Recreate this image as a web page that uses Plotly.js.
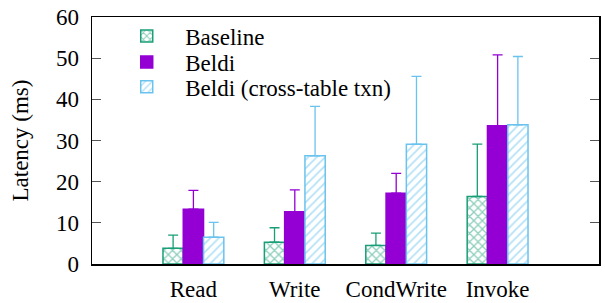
<!DOCTYPE html>
<html>
<head>
<meta charset="utf-8">
<script src="https://cdn.plot.ly/plotly-3.0.1.min.js"></script>
<style>html,body{margin:0;padding:0;background:#fff;}#chart{width:605px;height:303px;}</style>
</head>
<body>
<div id="chart"></div>
<script>
const categories = ["Read", "Write", "CondWrite", "Invoke"];
const seriesNames = ["Baseline", "Beldi", "Beldi (cross-table txn)"];
const baselineMean = [3.8, 5.3, 4.5, 16.4];
const baselineErrTop = [7.0, 8.8, 7.5, 29.1];
const beldiMean = [13.3, 12.7, 17.2, 33.6];
const beldiErrTop = [17.9, 18.0, 22.0, 50.8];
const crossMean = [6.5, 26.3, 29.1, 33.8];
const crossErrTop = [10.1, 38.3, 45.6, 50.4];
const yTicks = [0, 10, 20, 30, 40, 50, 60];

const green = "#1a9e77", purple = "#9400d3", blue = "#6ac3ee";
const font = {family: "Liberation Serif", size: 23, color: "#000"};

function mk(name, mean, top, color, pattern, legendId) {
  const marker = {color: pattern ? "#fff" : color, line: {color: color, width: 1.5}};
  if (pattern) marker.pattern = {shape: pattern.shape, fgcolor: color, bgcolor: "#fff", size: pattern.size, solidity: pattern.solidity, fillmode: "overlay"};
  return {
    type: "bar", name: name, x: categories, y: mean, marker: marker, legend: legendId,
    error_y: {type: "data", symmetric: false, array: top.map((t, i) => t - mean[i]), arrayminus: mean.map(() => 0),
              color: color, thickness: 1.3, width: 5}
  };
}

const data = [
  mk(seriesNames[0], baselineMean, baselineErrTop, green, {shape: "x", size: 6, solidity: 0.38}, "legend"),
  mk(seriesNames[1], beldiMean, beldiErrTop, purple, null, "legend2"),
  mk(seriesNames[2], crossMean, crossErrTop, blue, {shape: "/", size: 6, solidity: 0.3}, "legend3")
];

function leg(y) {
  return {x: 0.032, y: y, xanchor: "left", yanchor: "middle", bgcolor: "rgba(0,0,0,0)", font: font, itemwidth: 67};
}

const layout = {
  width: 605, height: 303,
  margin: {l: 92, r: 6, t: 17, b: 39},
  paper_bgcolor: "#fff", plot_bgcolor: "#fff",
  font: font,
  barmode: "group", bargap: 0.4, bargroupgap: 0,
  showlegend: true,
  legend: leg(0.923), legend2: leg(0.818), legend3: leg(0.717),
  xaxis: {type: "category", range: [-1, 4], showline: true, mirror: true, linecolor: "#000", linewidth: 1.5,
          ticks: "", showgrid: false, zeroline: false, tickfont: font, ticklabelstandoff: 4},
  yaxis: {range: [0, 60], tickvals: yTicks, ticks: "inside", ticklen: 9, tickcolor: "#555", tickwidth: 1.2,
          showline: true, mirror: "ticks", linecolor: "#000", linewidth: 1.5, showgrid: false, zeroline: false,
          tickfont: font, ticklabelstandoff: 7, title: {text: "Latency (ms)", font: font, standoff: 21}}
};

Plotly.newPlot("chart", data, layout, {displayModeBar: false, staticPlot: true});
</script>
</body>
</html>
